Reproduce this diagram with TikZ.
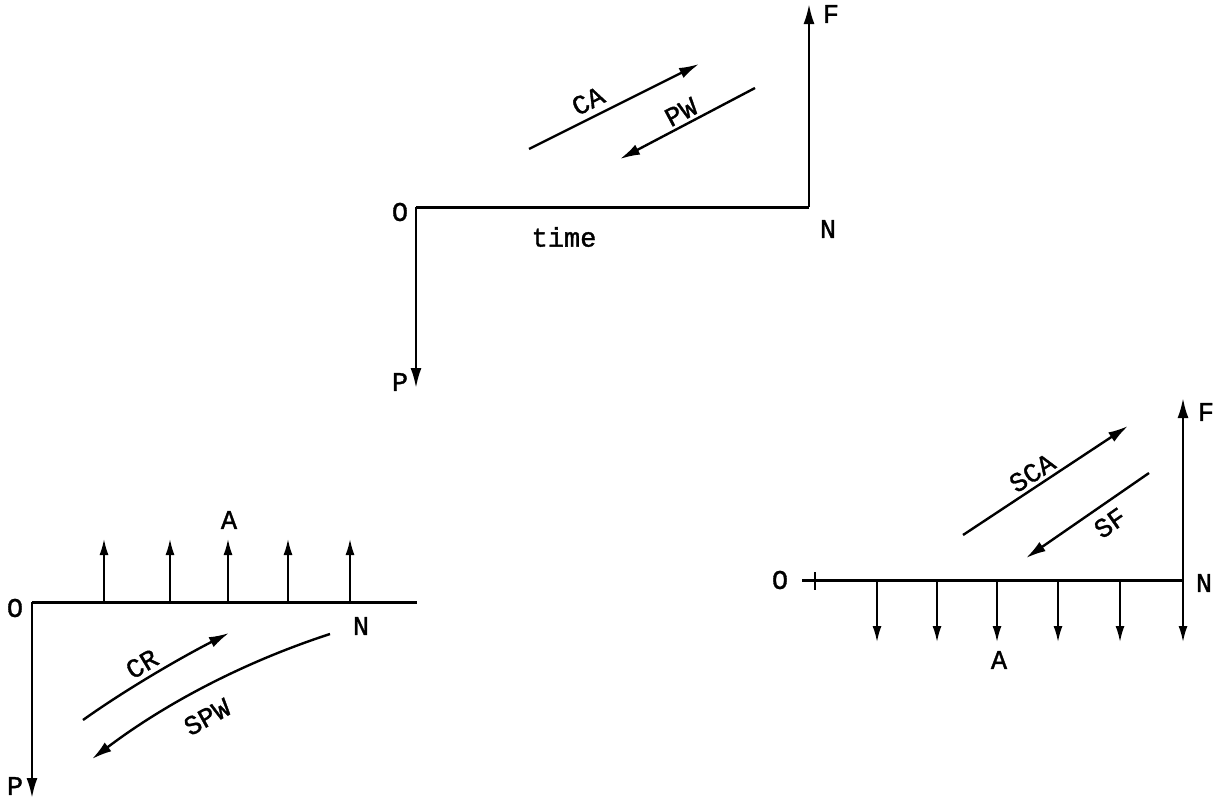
\documentclass[tikz,border=0pt]{standalone}
\usepackage{fontspec}
\newfontfamily\lblfont[FakeBold=1.2]{Liberation Mono}
\usetikzlibrary{arrows.meta}
\begin{document}
\begin{tikzpicture}[x=1pt,y=-1pt,
  lbl/.style={font=\lblfont\fontsize{27}{27}\selectfont, inner sep=0pt},
  axis/.style={line width=3pt},
  arr/.style={line width=2.4pt, -{Latex[length=20pt,width=11pt]}},
  thin arr/.style={line width=1.8pt, -{Latex[length=16pt,width=9pt]}}]
\useasboundingbox[fill=white] (0,0) rectangle (1215,798);

% ---------- top diagram ----------
\coordinate (O1) at (416,207);
\coordinate (N1) at (809,207);
\coordinate (F1) at (809,4);
\coordinate (P1) at (416,388);
\draw[axis] (O1) -- (N1);
\draw[arr] (N1) -- (F1);
\draw[arr] (O1) -- (P1);
\node[lbl] (lO1) at (400,212) {O};
\node[lbl] (lN1) at (828,229) {N};
\node[lbl] (lF1) at (831,14) {F};
\node[lbl] (lP1) at (400,382) {P};
\node[lbl] (time) at (564,237) {time};
\coordinate (ca1) at (529,149);
\coordinate (ca2) at (699,64);
\draw[arr] (ca1) -- (ca2);
\node[lbl, rotate=27] (lCA) at (588,101) {CA};
\coordinate (pw1) at (755,88);
\coordinate (pw2) at (620,159);
\draw[arr] (pw1) -- (pw2);
\node[lbl, rotate=28] (lPW) at (681,112) {PW};

% ---------- bottom-left diagram ----------
\coordinate (O2) at (32,602);
\coordinate (N2) at (417,602);
\coordinate (P2) at (32,798);
\draw[axis] (O2) -- (N2);
\draw[arr] (O2) -- (P2);
\node[lbl] (lO2) at (15,608) {O};
\node[lbl] (lN2) at (361,626) {N};
\node[lbl] (lP2) at (15,786) {P};
\node[lbl] (lA2) at (229,520) {A};
\foreach \x [count=\i] in {104,170,228,288,350} {
  \coordinate (u\i a) at (\x,602);
  \coordinate (u\i b) at (\x,539);
  \draw[thin arr] (u\i a) -- (u\i b);
}
\coordinate (cr1) at (83,720);
\coordinate (cr2) at (229,633);
\draw[arr] (cr1) .. controls (125,690) and (180,658) .. (cr2);
\node[lbl, rotate=31] (lCR) at (142,664) {CR};
\coordinate (spw1) at (330,634);
\coordinate (spw2) at (92,759);
\draw[arr] (spw1) .. controls (250,660) and (170,700) .. (spw2);
\node[lbl, rotate=29] (lSPW) at (207,717) {SPW};

% ---------- bottom-right diagram ----------
\coordinate (O3) at (802,580);
\coordinate (N3) at (1183,580);
\coordinate (F3) at (1183,398);
\draw[axis] (O3) -- (N3);
\draw[line width=2pt] (815,572) -- (815,590);
\draw[arr] (N3) -- (F3);
\node[lbl] (lO3) at (780,580) {O};
\node[lbl] (lN3) at (1204,583) {N};
\node[lbl] (lF3) at (1206,412) {F};
\node[lbl] (lA3) at (999,660) {A};
\foreach \x [count=\i] in {877,937,997,1058,1120,1183} {
  \coordinate (d\i a) at (\x,580);
  \coordinate (d\i b) at (\x,642);
  \draw[thin arr] (d\i a) -- (d\i b);
}
\coordinate (sca1) at (963,535);
\coordinate (sca2) at (1128,426);
\draw[arr] (sca1) -- (sca2);
\node[lbl, rotate=33] (lSCA) at (1032,473) {SCA};
\coordinate (sf1) at (1149,473);
\coordinate (sf2) at (1026,558);
\draw[arr] (sf1) -- (sf2);
\node[lbl, rotate=35] (lSF) at (1110,523) {SF};
\end{tikzpicture}
\end{document}
